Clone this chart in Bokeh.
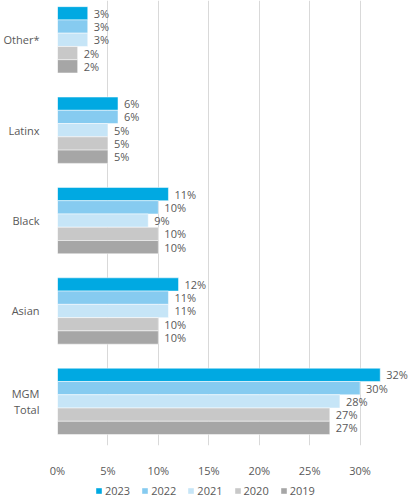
from bokeh.plotting import figure
from bokeh.layouts import column
from bokeh.models import ColumnDataSource, FixedTicker, Legend, LegendItem, PrintfTickFormatter, Range1d
from bokeh.transform import dodge
from bokeh.embed import file_html
from bokeh.resources import INLINE
from bokeh.core.properties import value

# Data
categories = ["Other*", "Latinx", "Black", "Asian", "MGM\nTotal"]
years = ["2023", "2022", "2021", "2020", "2019"]
v2023 = [3, 6, 11, 12, 32]
v2022 = [3, 6, 10, 11, 30]
v2021 = [3, 5, 9, 11, 28]
v2020 = [2, 5, 10, 10, 27]
v2019 = [2, 5, 10, 10, 27]
series = [v2023, v2022, v2021, v2020, v2019]
x_ticks = [0, 5, 10, 15, 20, 25, 30]

colors = ["#00A9E2", "#86CBF0", "#C6E5F7", "#C8C8C8", "#A6A6A6"]
FONT = "Open Sans"
TXT = "#595959"

n = len(categories)
ypos = [n - 1 - i for i in range(n)]  # top-to-bottom order

p = figure(width=410, height=480, output_backend="svg", toolbar_location=None,
           x_range=Range1d(0, 35.0), y_range=Range1d(-0.488, 4.435),
           min_border_left=57, min_border_right=0, min_border_top=0, min_border_bottom=33)
p.outline_line_color = None
p.background_fill_color = "white"

bh = 0.1468
offsets = [2 * bh, bh, 0, -bh, -2 * bh]
for yr, vals, col, off in zip(years, series, colors, offsets):
    src = ColumnDataSource(dict(y=ypos, v=vals, lab=[f"{v}%" for v in vals]))
    p.hbar(y=dodge("y", off), right="v", left=0, height=bh, source=src,
           fill_color=col, line_color="white", line_alpha=0.5, line_width=1)
    p.text(x="v", y=dodge("y", off), text="lab", source=src, x_offset=6,
           text_baseline="middle", text_align="left", text_font=value(FONT),
           text_font_size="11px", text_color=TXT)

p.xaxis.ticker = FixedTicker(ticks=x_ticks)
p.xaxis.formatter = PrintfTickFormatter(format="%d%%")
p.xaxis.axis_line_color = None
p.xaxis.major_tick_line_color = None
p.xaxis.minor_tick_line_color = None
p.xaxis.major_label_standoff = 11
p.xaxis.major_label_text_font = FONT
p.xaxis.major_label_text_font_size = "11px"
p.xaxis.major_label_text_color = TXT

p.yaxis.ticker = FixedTicker(ticks=ypos)
p.yaxis.major_label_overrides = {y: c for y, c in zip(ypos, categories)}
p.yaxis.axis_line_color = None
p.yaxis.major_tick_line_color = None
p.yaxis.minor_tick_line_color = None
p.yaxis.major_label_standoff = 12
p.yaxis.major_label_text_font = FONT
p.yaxis.major_label_text_font_size = "11px"
p.yaxis.major_label_text_color = TXT
p.yaxis.major_label_text_line_height = 1.05

p.xgrid.ticker = FixedTicker(ticks=x_ticks)
p.xgrid.grid_line_color = "#D9D9D9"
p.xgrid.grid_line_width = 1
p.ygrid.grid_line_color = None

# legend-only strip (swatch renderers sit outside the visible range)
lg = figure(width=410, height=21, output_backend="svg", toolbar_location=None,
            x_range=Range1d(0, 1), y_range=Range1d(0, 1),
            x_axis_type=None, y_axis_type=None,
            min_border_left=57, min_border_right=0, min_border_top=0, min_border_bottom=0)
lg.outline_line_color = None
lg.xgrid.visible = False
lg.ygrid.visible = False
items = []
for yr, col in zip(years, colors):
    r = lg.hbar(y=[-5], right=[1], left=0, height=0.5, fill_color=col, line_color=None)
    items.append(LegendItem(label=yr, renderers=[r]))
legend = Legend(items=items, orientation="horizontal", location=(38, 3),
                glyph_width=7, glyph_height=7, label_height=14, label_standoff=3,
                spacing=11, padding=0, margin=0, border_line_color=None,
                background_fill_alpha=0, label_text_font=FONT,
                label_text_font_size="11px", label_text_color=TXT)
lg.add_layout(legend, "center")

layout = column(p, lg, spacing=0)
open("out.html", "w").write(file_html(layout, INLINE))
